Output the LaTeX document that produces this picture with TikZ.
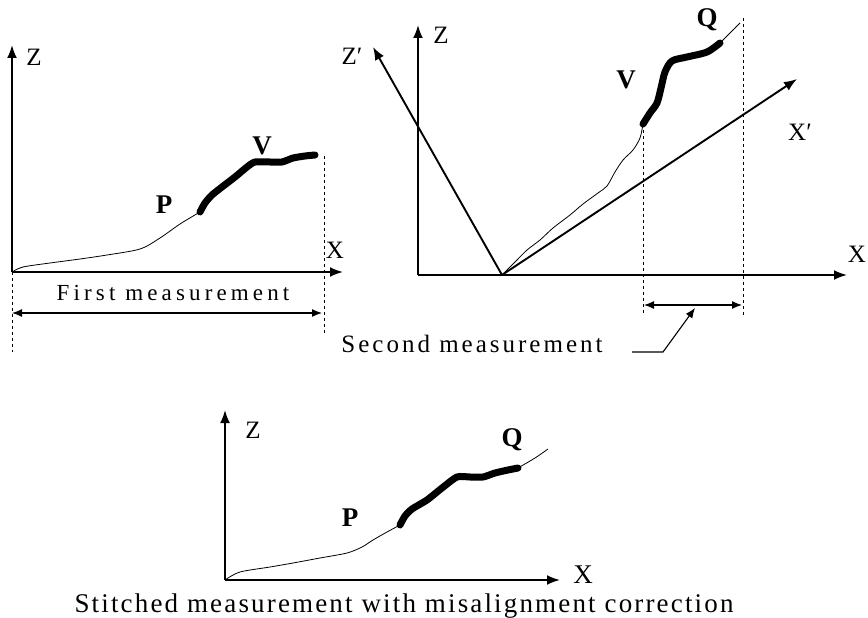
\documentclass[tikz,border=0pt]{standalone}
\usepackage{fontspec}
\setmainfont{Liberation Serif}
\usetikzlibrary{arrows.meta}

\begin{document}
\begin{tikzpicture}[x=1pt,y=-1pt,
    axis/.style={line width=1.9pt},
    lbl/.style={font=\fontsize{25}{28}\selectfont,inner sep=0pt},
    pt/.style={font=\fontsize{27}{30}\selectfont\bfseries,inner sep=0pt},
    capt/.style={inner sep=0pt,anchor=base},
    trace/.style={line width=0.8pt},
    seg/.style={line width=7pt,line cap=round,line join=round},
    guide/.style={dashed,line width=1pt},
    >={Latex[length=13pt,width=10pt]}
]
\useasboundingbox (0,0) rectangle (868,618);

% first measurement
\coordinate (o1) at (12,272);
\coordinate (z1) at (12,45);
\coordinate (x1) at (343,272);
\draw[axis,->] (o1) -- (z1);
\draw[axis,->] (o1) -- (x1);
\node[lbl] (zlab1) at (34,57) {Z};
\node[lbl] (xlab1) at (335,250) {X};
\draw[trace] plot[smooth] coordinates {(12,272) (23,267) (50,263) (80,259) (107,255) (140,249) (160,238) (180,224) (200,212)};
\draw[seg] plot[smooth,tension=0.4] coordinates {(200,212) (205,203) (212,195) (222,187) (235,177) (247,167) (255,162) (270,162) (282,162) (293,158) (305,156) (315,155)};
\node[pt] (p1) at (164,205) {P};
\node[pt] (v1) at (262,146) {V};
\coordinate (d1a) at (12,352);
\coordinate (d1b) at (324,156);
\coordinate (d1c) at (324,335);
\draw[guide] (o1) -- (d1a);
\draw[guide] (d1b) -- (d1c);
\coordinate (m1a) at (12,313);
\coordinate (m1b) at (322,313);
\draw[line width=1.2pt,<->,>={Latex[length=10pt,width=8pt]}] (m1a) -- (m1b);
\node[capt,font=\addfontfeature{LetterSpace=18}\fontsize{23}{26}\selectfont] (first) at (173,300) {First measurement};

% second measurement
\coordinate (o2) at (418,275);
\coordinate (z2) at (418,25);
\coordinate (x2) at (847,275);
\coordinate (o2r) at (502,275);
\coordinate (z2r) at (373,47);
\coordinate (x2r) at (797,79);
\draw[axis,->] (o2) -- (z2);
\draw[axis,->] (o2) -- (x2);
\draw[axis,->] (o2r) -- (z2r);
\draw[axis,->] (o2r) -- (x2r);
\node[lbl] (zlab2) at (441,35) {Z};
\node[lbl] (xlab2) at (857,254) {X};
\node[lbl] (zrlab) at (352,56) {Z′};
\node[lbl] (xrlab) at (800,132) {X′};
\draw[trace] plot[smooth] coordinates {(502,275) (515,262) (527,250) (540,240) (553,228) (570,215) (583,204) (598,193) (607,186) (615,172) (623,160) (633,150) (640,138) (643,124)};
\draw[seg] plot[smooth] coordinates {(643,124) (650,113) (657,103) (661,88) (665,72) (672,61) (687,57) (707,52) (720,43)};
\draw[trace] plot[smooth] coordinates {(720,43) (730,33) (740,23)};
\node[pt] (v2) at (626,80) {V};
\node[pt] (q2) at (707,20) {Q};
\coordinate (d2a) at (643,124);
\coordinate (d2b) at (643,315);
\coordinate (d2c) at (743,18);
\coordinate (d2d) at (743,317);
\draw[guide] (d2a) -- (d2b);
\draw[guide] (d2c) -- (d2d);
\coordinate (m2a) at (644,305);
\coordinate (m2b) at (742,305);
\draw[line width=1.2pt,<->,>={Latex[length=10pt,width=8pt]}] (m2a) -- (m2b);
\node[capt,font=\addfontfeature{LetterSpace=12}\fontsize{25}{28}\selectfont] (second) at (472,352) {Second measurement};
\coordinate (lead1) at (632,352);
\coordinate (lead2) at (663,352);
\coordinate (lead3) at (695,308);
\draw[line width=1.1pt,->,>={Latex[length=10pt,width=8pt]}] (lead1) -- (lead2) -- (lead3);

% stitched
\coordinate (o3) at (225,580);
\coordinate (z3) at (225,410);
\coordinate (x3) at (560,580);
\draw[axis,->] (o3) -- (z3);
\draw[axis,->] (o3) -- (x3);
\node[lbl] (zlab3) at (253,430) {Z};
\node[lbl,font=\fontsize{27}{30}\selectfont] (xlab3) at (583,575) {X};
\draw[trace] plot[smooth] coordinates {(225,580) (240,572) (270,567) (293,563) (320,558) (347,553) (362,547) (373,540) (387,532) (400,525)};
\draw[seg] plot[smooth,tension=0.4] coordinates {(400,525) (405,516) (412,509) (427,500) (442,488) (457,477) (470,477) (483,477) (495,473) (508,470) (518,468)};
\draw[trace] plot[smooth] coordinates {(518,468) (535,458) (548,449)};
\node[pt] (p3) at (350,518) {P};
\node[pt] (q3) at (512,440) {Q};
\node[capt,font=\addfontfeature{LetterSpace=8}\fontsize{27}{30}\selectfont] (stitched) at (404,612) {Stitched measurement with misalignment correction};
\end{tikzpicture}
\end{document}
